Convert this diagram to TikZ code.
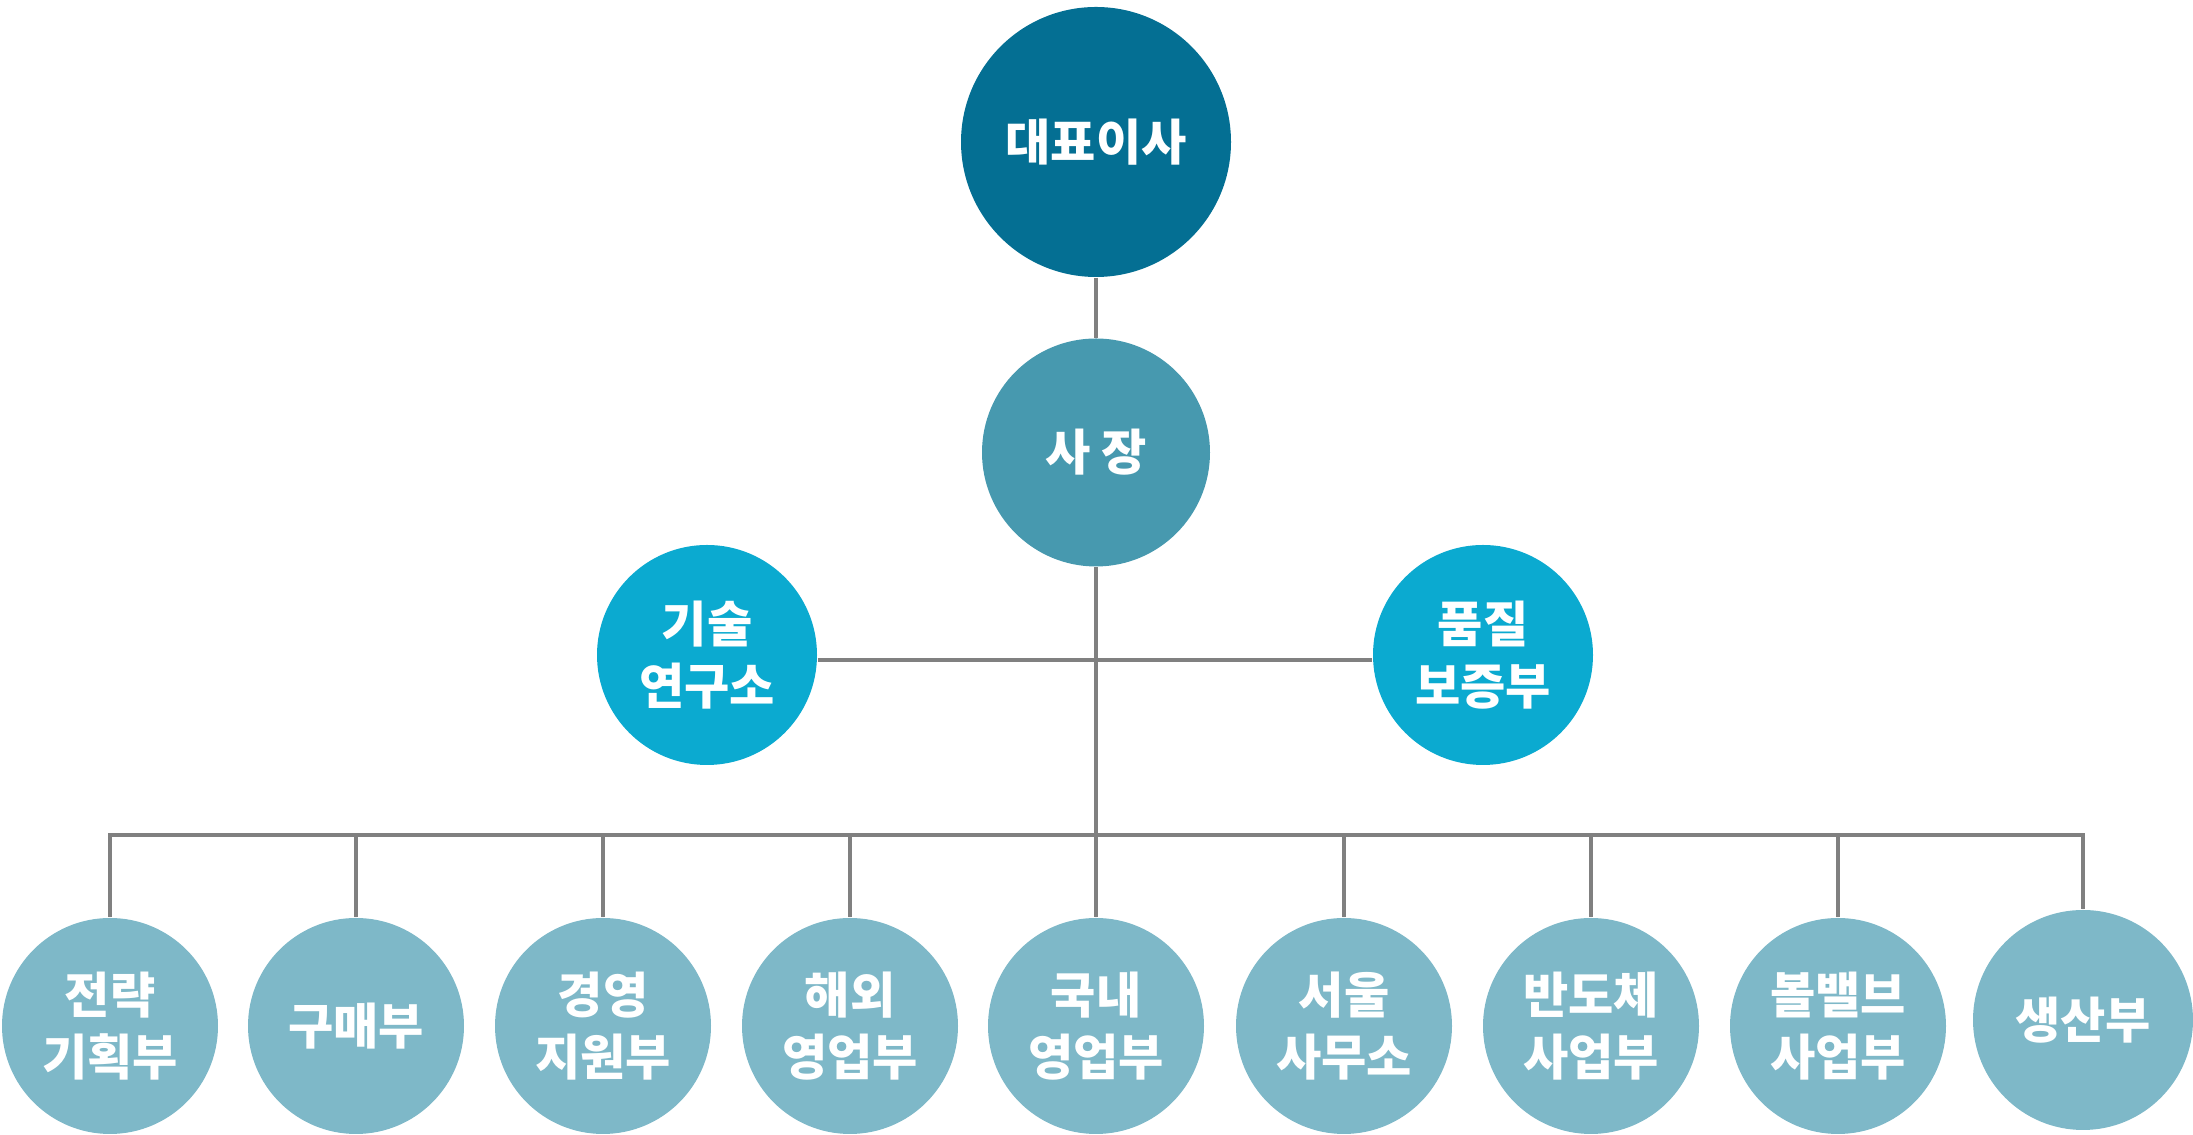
\documentclass[tikz,border=0pt]{standalone}
\usepackage{fontspec}
\setmainfont{Noto Sans CJK KR}
\usepackage{tikz}

\definecolor{ceoblue}{HTML}{046F93}
\definecolor{presblue}{HTML}{4799AF}
\definecolor{midblue}{HTML}{0BAAD0}
\definecolor{deptblue}{HTML}{7EB8C8}
\definecolor{linegray}{HTML}{808080}

\tikzset{
	org/.style = {circle, inner sep=0pt, text=white, align=center,
		font=\bfseries\fontsize{14}{17.6}\selectfont},
	dept/.style = {org, fill=deptblue, minimum size=2.16cm},
	tie/.style = {draw=linegray, line width=1.2pt}
}

\begin{document}
\begin{tikzpicture}
	\useasboundingbox (0,0) rectangle (21.93,11.35);
	% top of the chart
	\node [org, fill=ceoblue, minimum size=2.70cm] (ceo) at (10.96,9.93) {대표이사};
	\node [org, fill=presblue, minimum size=2.28cm] (pres) at (10.96,6.825) {사 장};
	\node [org, fill=midblue, minimum size=2.20cm] (lab) at (7.07,4.80) {기술\\연구소};
	\node [org, fill=midblue, minimum size=2.20cm] (qa) at (14.83,4.80) {품질\\보증부};
	% departments
	\node [dept] (d1) at (1.10,1.09) {전략\\기획부};
	\node [dept] (d2) at (3.56,1.09) {구매부};
	\node [dept] (d3) at (6.03,1.09) {경영\\지원부};
	\node [dept] (d4) at (8.50,1.09) {해외\\영업부};
	\node [dept] (d5) at (10.96,1.09) {국내\\영업부};
	\node [dept] (d6) at (13.44,1.09) {서울\\사무소};
	\node [dept] (d7) at (15.91,1.09) {반도체\\사업부};
	\node [dept] (d8) at (18.38,1.09) {볼밸브\\사업부};
	\node [dept, minimum size=2.20cm] (d9) at (20.83,1.15) {생산부};
	% connectors
	\draw [tie] (ceo) -- (pres);
	\draw [tie] (pres) -- (d5);
	\draw [tie] ([yshift=-0.05cm]lab.east) -- ([yshift=-0.05cm]qa.west);
	\coordinate (bus) at (10.96,3.00);
	\draw [tie] (d1.north) |- (bus) -| (d9.north);
	\foreach \d in {d2, d3, d4, d6, d7, d8}
		\draw [tie] (\d.north) -- (\d.north |- bus);
\end{tikzpicture}
\end{document}
